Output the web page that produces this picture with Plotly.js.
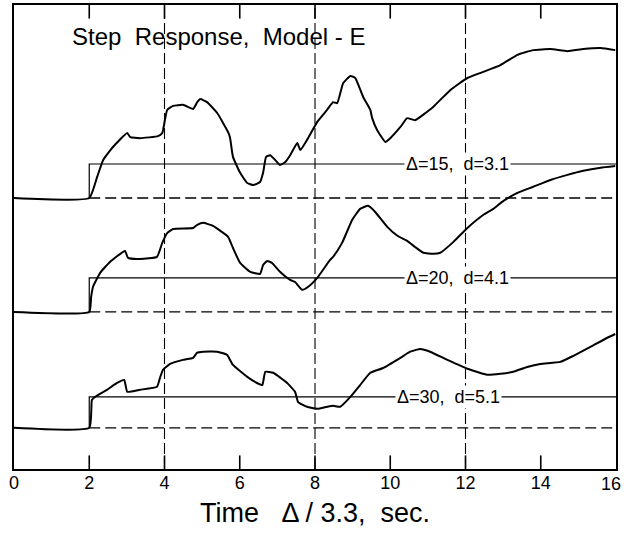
<!DOCTYPE html>
<html>
<head>
<meta charset="utf-8">
<script src="https://cdn.plot.ly/plotly-3.0.1.min.js"></script>
<style>html,body{margin:0;padding:0;background:#fff;}#chart{width:624px;height:533px;}</style>
</head>
<body>
<div id="chart"></div>
<script>
// Tick labels of the time axis
const xTicks = [0, 2, 4, 6, 8, 10, 12, 14, 16];
const gridTimes = [4, 8, 12];

// Panel labels
const panelLabels = ["Δ=15,  d=3.1", "Δ=20,  d=4.1", "Δ=30,  d=5.1"];
const labelTimes = [11.78, 11.78, 11.54];

// Step input start and levels (in response units)
const stepStart = 2;
const stepLevels = [1, 1, 0.91];
// Vertical placement of each panel's zero line
const panelBase = [7.97, 4.62, 1.21];

// Response, Δ=15
const t15 = [0, 2.0, 2.21, 2.37, 2.63, 3.01, 3.09, 3.35, 3.83, 3.94, 4.07, 4.23, 4.49, 4.76, 4.87, 4.95, 5.13, 5.40, 5.69, 5.74, 5.82, 6.01, 6.20, 6.36, 6.54, 6.62, 6.70, 6.81, 6.94, 7.07, 7.21, 7.34, 7.53, 7.61, 7.79, 8.06, 8.32, 8.48, 8.59, 8.75, 8.94, 9.07, 9.28, 9.47, 9.52, 9.65, 9.87, 10.0, 10.27, 10.45, 10.66, 11.14, 11.60, 12.05, 12.47, 12.93, 13.38, 13.80, 14.26, 14.71, 15.13, 15.59, 15.98];
const r15 = [0, 0, 0.62, 1.12, 1.50, 1.91, 1.79, 1.76, 1.82, 1.91, 2.59, 2.71, 2.74, 2.62, 2.82, 2.91, 2.82, 2.50, 1.94, 1.79, 1.21, 0.74, 0.44, 0.38, 0.47, 0.74, 1.21, 1.26, 1.12, 0.97, 1.06, 1.26, 1.62, 1.41, 1.71, 2.24, 2.59, 2.82, 2.79, 3.38, 3.59, 3.53, 2.97, 2.59, 2.35, 2.00, 1.65, 1.76, 2.09, 2.35, 2.29, 2.68, 3.18, 3.53, 3.71, 3.91, 4.21, 4.35, 4.38, 4.32, 4.38, 4.41, 4.35];

// Response, Δ=20
const t20 = [0, 2.0, 2.05, 2.10, 2.29, 2.55, 2.95, 3.03, 3.35, 3.80, 3.94, 4.07, 4.23, 4.76, 4.87, 5.03, 5.29, 5.69, 5.82, 6.01, 6.28, 6.54, 6.62, 6.73, 6.86, 7.07, 7.34, 7.47, 7.66, 7.82, 8.06, 8.40, 8.48, 8.72, 8.99, 9.20, 9.41, 9.60, 9.92, 10.19, 10.45, 10.66, 10.88, 11.14, 11.33, 11.68, 12.05, 12.47, 12.74, 13.0, 13.38, 13.80, 14.26, 14.71, 15.13, 15.59, 15.98];
const r20 = [0, 0, 0.44, 0.74, 1.15, 1.47, 1.79, 1.59, 1.56, 1.62, 2.03, 2.32, 2.44, 2.47, 2.56, 2.62, 2.53, 2.21, 1.88, 1.44, 1.18, 1.12, 1.38, 1.50, 1.44, 1.18, 0.94, 0.88, 0.65, 0.74, 1.00, 1.53, 1.62, 2.03, 2.71, 3.03, 3.12, 2.94, 2.50, 2.24, 2.09, 1.91, 1.74, 1.71, 1.74, 2.06, 2.47, 2.85, 3.03, 3.26, 3.50, 3.68, 3.88, 4.03, 4.15, 4.24, 4.29];

// Response, Δ=30
const t30 = [0, 2.0, 2.07, 2.15, 2.47, 2.74, 2.93, 3.01, 3.35, 3.80, 3.88, 3.96, 4.15, 4.49, 4.76, 4.87, 5.03, 5.40, 5.66, 5.82, 6.20, 6.46, 6.60, 6.68, 6.89, 7.26, 7.47, 7.55, 7.79, 8.06, 8.32, 8.48, 8.67, 8.94, 9.20, 9.47, 9.81, 10.27, 10.53, 10.80, 11.06, 11.52, 12.05, 12.58, 12.93, 13.27, 13.64, 13.99, 14.52, 14.87, 15.32, 15.77, 15.98];
const r30 = [0, 0, 0.82, 0.91, 1.12, 1.32, 1.41, 1.06, 1.12, 1.21, 1.47, 1.71, 1.88, 2.00, 2.06, 2.21, 2.24, 2.24, 2.15, 1.85, 1.50, 1.32, 1.26, 1.65, 1.62, 1.32, 1.06, 0.76, 0.62, 0.56, 0.62, 0.65, 0.62, 0.91, 1.26, 1.62, 1.76, 2.06, 2.24, 2.32, 2.24, 2.00, 1.74, 1.56, 1.59, 1.65, 1.79, 1.88, 1.94, 2.12, 2.38, 2.65, 2.76];

const times = [t15, t20, t30];
const responses = [r15, r20, r30];

const X_MIN = 0, X_MAX = 16, Y_MAX = 13.647;
const TICK = 0.4; // inward tick length in y units (~13 px)
const ink = '#000';
const FONT = 'Liberation Sans, Arial, sans-serif';
const traces = [];

// vertical dashed grid lines
gridTimes.forEach(g => {
  traces.push({x: [g, g], y: [0, Y_MAX], mode: 'lines', hoverinfo: 'skip',
    line: {color: ink, width: 1.1, dash: '11px,4px'}});
});

// inward tick marks on the bottom and top frame edges
xTicks.filter(v => v > X_MIN && v < X_MAX).forEach(v => {
  traces.push({x: [v, v], y: [0, TICK], mode: 'lines', hoverinfo: 'skip',
    line: {color: ink, width: 1.6}});
  traces.push({x: [v, v], y: [Y_MAX - TICK, Y_MAX], mode: 'lines', hoverinfo: 'skip',
    line: {color: ink, width: 1.6}});
});

for (let k = 0; k < 3; k++) {
  const b = panelBase[k];
  // dashed zero line after step
  traces.push({x: [stepStart, X_MAX], y: [b, b], mode: 'lines', hoverinfo: 'skip',
    line: {color: ink, width: 1.3, dash: '11px,5px'}});
  // step input
  traces.push({x: [stepStart, stepStart, X_MAX], y: [b, b + stepLevels[k], b + stepLevels[k]],
    mode: 'lines', hoverinfo: 'skip', line: {color: ink, width: 1.2}});
  // response
  traces.push({x: times[k], y: responses[k].map(v => v + b), mode: 'lines',
    line: {color: ink, width: 2, shape: 'spline', smoothing: 0.4}});
}

const annotations = panelLabels.map((txt, k) => ({
  x: labelTimes[k], y: panelBase[k] + stepLevels[k], xref: 'x', yref: 'y',
  text: txt, showarrow: false, bgcolor: '#fff', borderpad: 1,
  font: {family: FONT, size: 18, color: ink}
}));
annotations.push({
  x: 0.093, y: 0.933, xref: 'paper', yref: 'paper', xanchor: 'left', yanchor: 'middle',
  text: 'Step  Response,  Model - E', showarrow: false,
  font: {family: FONT, size: 24, color: ink}
});
// last tick label, right-aligned so it stays inside the page
annotations.push({
  x: X_MAX, y: 0, xref: 'x', yref: 'paper', xanchor: 'right', yanchor: 'top',
  xshift: 7, yshift: -3, text: String(X_MAX), showarrow: false,
  font: {family: FONT, size: 18, color: ink}
});

const layout = {
  width: 624, height: 533,
  margin: {l: 14, r: 8, t: 5, b: 64},
  paper_bgcolor: '#fff', plot_bgcolor: '#fff',
  showlegend: false,
  xaxis: {
    range: [X_MIN, X_MAX], tickmode: 'array', tickvals: xTicks.slice(0, -1),
    ticktext: xTicks.slice(0, -1).map(String),
    ticks: '', showline: true, linecolor: ink, linewidth: 2, mirror: true,
    ticklabelstandoff: -4,
    showgrid: false, zeroline: false,
    tickfont: {family: FONT, size: 18, color: ink},
    title: {text: 'Time   Δ / 3.3,  sec.', standoff: 12,
      font: {family: FONT, size: 27, color: ink}}
  },
  yaxis: {
    range: [0, Y_MAX], showticklabels: false, ticks: '',
    showline: true, linecolor: ink, linewidth: 2, mirror: true,
    showgrid: false, zeroline: false
  },
  annotations: annotations
};

Plotly.newPlot('chart', traces, layout, {displayModeBar: false, staticPlot: true});
</script>
</body>
</html>
